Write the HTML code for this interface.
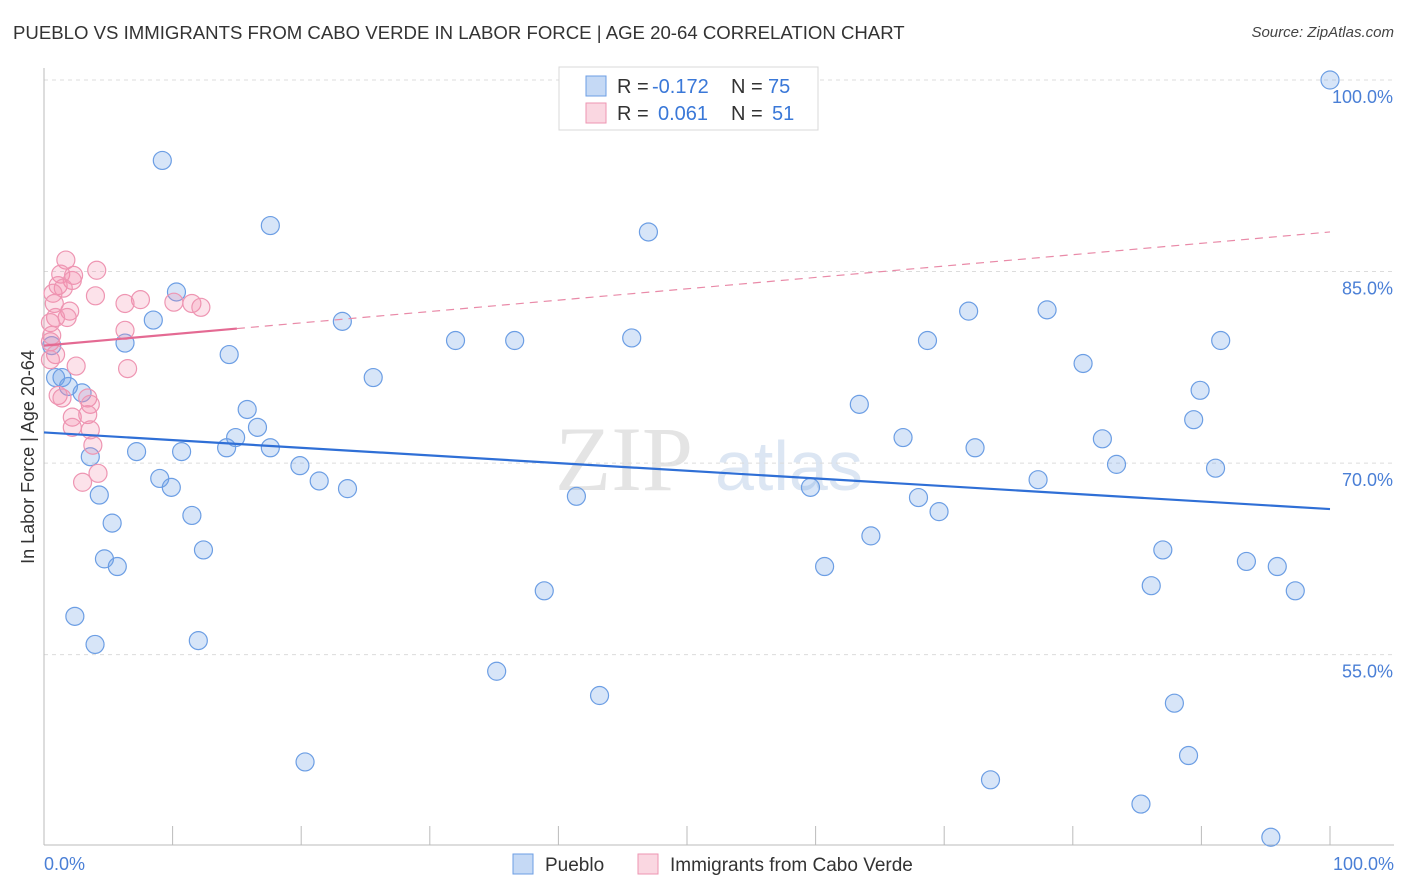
<!DOCTYPE html>
<html><head><meta charset="utf-8"><style>
body{margin:0;background:#fff;font-family:"Liberation Sans",sans-serif;}
#wrap{position:relative;width:1406px;height:892px;overflow:hidden;}
.t{position:absolute;white-space:nowrap;}
</style></head><body>
<div id="wrap">
<div class="t" style="left:13px;top:22px;font-size:18.6px;color:#333;">PUEBLO VS IMMIGRANTS FROM CABO VERDE IN LABOR FORCE | AGE 20-64 CORRELATION CHART</div>
<div class="t" style="right:12px;top:24px;font-size:15px;color:#444;font-style:italic;">Source: ZipAtlas.com</div>
<svg id="svg" width="1406" height="892" style="position:absolute;left:0;top:0"></svg>
</div>
<script>
const yTicks=[100,85,70,55];
const yTickLabels=["100.0%","85.0%","70.0%","55.0%"];
const puebloX=[42.3,100,9.2,17.6,47.0,10.3,8.5,23.2,71.9,78.0,6.3,32.0,36.6,45.7,68.7,91.5,14.4,0.6,0.9,1.4,1.9,2.96,25.6,80.8,89.9,15.8,63.4,89.4,16.6,14.9,66.8,82.3,14.2,17.6,7.2,10.7,72.4,3.6,19.9,83.4,91.1,9.0,9.9,21.4,23.6,77.3,59.6,4.3,41.4,68.0,69.6,11.5,5.3,64.3,12.4,87.0,4.7,5.7,60.7,93.5,95.9,38.9,86.1,97.3,2.4,3.97,12.0,35.2,43.2,87.9,89.0,20.3,73.6,85.3,95.4];
const puebloY=[100,100,93.7,88.6,88.1,83.4,81.2,81.1,81.9,82.0,79.4,79.6,79.6,79.8,79.6,79.6,78.5,79.2,76.7,76.7,76.0,75.5,76.7,77.8,75.7,74.2,74.6,73.4,72.8,72.0,72.0,71.9,71.2,71.2,70.9,70.9,71.2,70.5,69.8,69.9,69.6,68.8,68.1,68.6,68.0,68.7,68.1,67.5,67.4,67.3,66.2,65.9,65.3,64.3,63.2,63.2,62.5,61.9,61.9,62.3,61.9,60.0,60.4,60.0,58.0,55.8,56.1,53.7,51.8,51.2,47.1,46.6,45.2,43.3,40.7];
const caboX=[1.7,4.1,1.3,2.3,2.2,1.1,1.5,0.7,4.0,7.5,6.3,0.8,10.1,11.5,12.2,2.0,1.8,0.9,0.5,6.3,0.6,0.5,0.9,0.5,2.5,6.5,1.1,1.4,3.4,3.6,2.2,3.4,2.2,3.6,3.8,4.2,3.0];
const caboY=[85.9,85.1,84.8,84.7,84.3,83.9,83.7,83.3,83.1,82.8,82.5,82.5,82.6,82.5,82.2,81.9,81.4,81.4,81.0,80.4,80.0,79.5,78.5,78.1,77.6,77.4,75.3,75.1,75.1,74.6,73.6,73.8,72.8,72.6,71.4,69.2,68.5];
const puebloTrend=[72.4,66.4];
const caboTrend=[79.2,88.1];
const caboSolidEnd=15;
const legendR=["-0.172","0.061"];
const legendN=["75","51"];

const X0=44,X1=1330,Y100=80,PX=12.77;
const xs=v=>X0+(X1-X0)*v/100;
const ys=v=>Y100+(100-v)*PX;
const svg=document.getElementById('svg');
const NS='http://www.w3.org/2000/svg';
function mk(tag,attrs,parent){const e=document.createElementNS(NS,tag);for(const k in attrs)e.setAttribute(k,attrs[k]);(parent||svg).appendChild(e);return e;}

let wm=mk('text',{x:555,y:490,'font-size':92,'font-family':'Liberation Serif,serif',fill:'#e4e4e4'});


wm.textContent='ZIP';
let wm2=mk('text',{x:715,y:490,'font-size':70,'font-family':'Liberation Sans,sans-serif',fill:'#dce6f3'});


wm2.textContent='atlas';

yTicks.forEach((t,i)=>{
  const g=mk('line',{x1:X0,x2:1394,y1:ys(t),y2:ys(t),stroke:'#dcdcdc','stroke-dasharray':'4,4'});
  
  
  const l=mk('text',{x:1393,y:ys(t)+23,'text-anchor':'end','font-size':18,fill:'#4a7fd6','font-family':'Liberation Sans,sans-serif'});
  
  
  l.textContent=yTickLabels[i];
});
let ax=mk('line',{x1:X0,x2:X0,y1:68,y2:845,stroke:'#bbb'});


let bx=mk('line',{x1:X0,x2:1394,y1:845,y2:845,stroke:'#bbb'});


for(let i=0;i<=10;i++){
  const tk=mk('line',{x1:xs(i*10),x2:xs(i*10),y1:826,y2:845,stroke:'#bbb'});
  
  
}
let xl0=mk('text',{x:44,y:870,'font-size':18,fill:'#4a7fd6','font-family':'Liberation Sans,sans-serif'});


xl0.textContent='0.0%';
let xl1=mk('text',{x:1394,y:870,'text-anchor':'end','font-size':18,fill:'#4a7fd6','font-family':'Liberation Sans,sans-serif'});


xl1.textContent='100.0%';
let yt=mk('text',{x:34,y:457,'text-anchor':'middle','font-size':18,fill:'#333',transform:'rotate(-90 34 457)','font-family':'Liberation Sans,sans-serif'});


yt.textContent='In Labor Force | Age 20-64';

puebloX.forEach((v,i)=>{
  const c=mk('circle',{cx:xs(v),cy:ys(puebloY[i]),r:9,fill:'rgba(110,160,230,0.28)',stroke:'#6c9ee4','stroke-width':1.2});
  
  
});
caboX.forEach((v,i)=>{
  const c=mk('circle',{cx:xs(v),cy:ys(caboY[i]),r:9,fill:'rgba(242,140,170,0.25)',stroke:'#ee95b2','stroke-width':1.2});
  
  
});
let pt=mk('line',{x1:xs(0),y1:ys(puebloTrend[0]),x2:xs(100),y2:ys(puebloTrend[1]),stroke:'#2f6fd6','stroke-width':2.2});


const cy=v=>caboTrend[0]+(caboTrend[1]-caboTrend[0])*v/100;
let cd=mk('line',{x1:xs(caboSolidEnd),y1:ys(cy(caboSolidEnd)),x2:xs(100),y2:ys(cy(100)),stroke:'#e98aa8','stroke-width':1.2,'stroke-dasharray':'8,6'});


let cs=mk('line',{x1:xs(0),y1:ys(cy(0)),x2:xs(caboSolidEnd),y2:ys(cy(caboSolidEnd)),stroke:'#e46a93','stroke-width':2.2});



let lb=mk('rect',{x:559,y:67,width:259,height:63,fill:'#fff',stroke:'#d8d8d8'});


const cols=[['rgba(110,160,230,0.4)','#6c9ee4'],['rgba(242,140,170,0.35)','#ee95b2']];
[0,1].forEach(i=>{
  const y=86+i*27;
  const r=mk('rect',{x:586,y:y-10,width:20,height:20,fill:cols[i][0],stroke:cols[i][1]});
  
  
  const t=mk('text',{x:617,y:y+7,'font-size':20,fill:'#333','font-family':'Liberation Sans,sans-serif'});
  
  
  t.innerHTML='R = <tspan fill="#3a78d8" x="'+(i?658:652)+'">'+legendR[i]+'</tspan><tspan x="731">N = </tspan><tspan fill="#3a78d8" x="'+(i?772:768)+'">'+legendN[i]+'</tspan>';
});
[['Pueblo',513,cols[0]],['Immigrants from Cabo Verde',638,cols[1]]].forEach(([n,x,c])=>{
  const r=mk('rect',{x:x,y:854,width:20,height:20,fill:c[0],stroke:c[1]});
  
  
  const t=mk('text',{x:x+32,y:871,'font-size':19,fill:'#333','font-family':'Liberation Sans,sans-serif'});
  
  
  t.textContent=n;
});
</script>
</body></html>
